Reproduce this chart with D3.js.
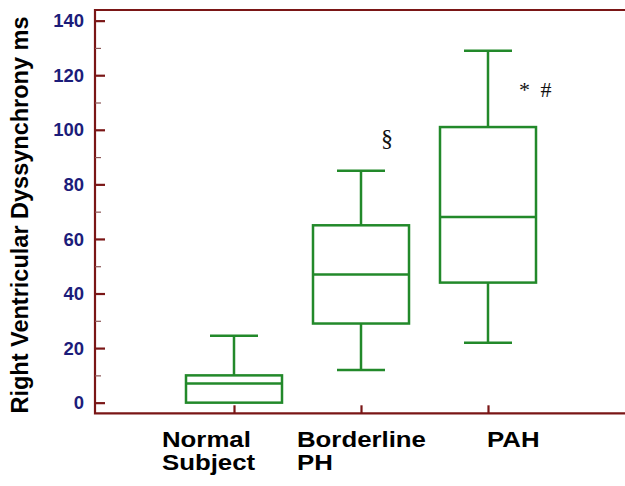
<!DOCTYPE html>
<meta charset="utf-8">
<script src="https://d3js.org/d3.v7.min.js"></script>
<style>
body { margin: 0; background: #fff; }
text { font-family: "Liberation Sans", Arial, sans-serif; }
.box { fill: none; stroke: #22892a; stroke-width: 2.5px; }
.frame { stroke: #7a1616; stroke-width: 2.2px; fill: none; }
</style>
<body>
<script>

// group names and box-plot statistics (ms)
var groups   = ["Normal Subject", "Borderline PH", "PAH"];
var whiskLo  = [0, 12, 22];
var q1       = [0, 29, 44];
var median   = [7, 47, 68];
var q3       = [10, 65, 101];
var whiskHi  = [24.5, 85, 129];

var yTicks = [0, 20, 40, 60, 80, 100, 120, 140];
var yMinor = [10, 30, 50, 70, 90, 110, 130];

// significance marks, placed at a value on the y scale
var marks    = ["", "\u00a7", "*\u2009#"];
var markAt   = [0, 94, 112];

var width = 625,
    height = 486;

var svg = d3.select("body").append("svg")
    .attr("width", width)
    .attr("height", height);

var plotL = 95, plotT = 10, plotB = 413.3;

var y = d3.scaleLinear().domain([-3.9, 143.9]).range([plotB, plotT]);
var x = d3.scalePoint().domain(groups).range([234, 488]);

var boxW = 96, capW = 48;

// frame
svg.append("path").attr("class", "frame")
    .attr("d", "M" + width + "," + plotT + "H" + plotL + "V" + plotB + "H" + width);

// y axis (ticks pointing inward), labels drawn separately
var yAxis = svg.append("g")
    .attr("transform", "translate(" + plotL + ",0)")
    .call(d3.axisLeft(y).tickValues(yTicks).tickSize(-10).tickFormat(""));
yAxis.select(".domain").remove();
yAxis.selectAll(".tick line").attr("stroke", "#7a1616").attr("stroke-width", 2.2);

svg.append("g").selectAll("text")
    .data(yTicks)
    .enter().append("text")
    .attr("x", plotL - 11)
    .attr("y", function(d) { return y(d); })
    .attr("dy", "0.36em")
    .attr("text-anchor", "end")
    .style("font-size", "18.5px")
    .style("font-weight", "bold")
    .style("fill", "#1c1c7a")
    .text(function(d) { return d; });

var yMin = svg.append("g")
    .attr("transform", "translate(" + plotL + ",0)")
    .call(d3.axisLeft(y).tickValues(yMinor).tickSize(-6).tickFormat(""));
yMin.select(".domain").remove();
yMin.selectAll(".tick line").attr("stroke", "#8a5555").attr("stroke-width", 1.2);

// x axis ticks
var xAxis = svg.append("g")
    .attr("transform", "translate(0," + plotB + ")")
    .call(d3.axisBottom(x).tickSize(-8).tickFormat(""));
xAxis.select(".domain").remove();
xAxis.selectAll(".tick line").attr("stroke", "#7a1616").attr("stroke-width", 2.2);

// x labels, two lines, left aligned as in the slide
var labelDx = [-72, -64, -1];
groups.forEach(function(g, i) {
  var lines = g.split(" ");
  var t = svg.append("text")
      .attr("transform", "translate(" + (x(g) + labelDx[i]) + ",446.7) scale(1.2,1)")
      .style("font-size", "21.5px")
      .style("font-weight", "bold")
      .attr("fill", "#000");
  lines.forEach(function(l, j) {
    t.append("tspan").attr("x", 0).attr("y", j * 23).text(l);
  });
});

// y title
svg.append("text")
    .attr("transform", "translate(28,215) rotate(-90)")
    .attr("text-anchor", "middle")
    .style("font-size", "23.5px")
    .style("font-weight", "bold")
    .attr("fill", "#000")
    .text("Right Ventricular Dyssynchrony ms");

// boxes
var bx = svg.append("g").selectAll("g")
    .data(groups)
    .enter().append("g");

bx.each(function(g, i) {
  var s = d3.select(this);
  var cx = x(g);
  // whiskers
  if (whiskHi[i] > q3[i]) {
    s.append("line").attr("class", "box")
        .attr("x1", cx).attr("x2", cx).attr("y1", y(q3[i])).attr("y2", y(whiskHi[i]));
    s.append("line").attr("class", "box")
        .attr("x1", cx - capW / 2).attr("x2", cx + capW / 2)
        .attr("y1", y(whiskHi[i])).attr("y2", y(whiskHi[i]));
  }
  if (whiskLo[i] < q1[i]) {
    s.append("line").attr("class", "box")
        .attr("x1", cx).attr("x2", cx).attr("y1", y(q1[i])).attr("y2", y(whiskLo[i]));
    s.append("line").attr("class", "box")
        .attr("x1", cx - capW / 2).attr("x2", cx + capW / 2)
        .attr("y1", y(whiskLo[i])).attr("y2", y(whiskLo[i]));
  }
  s.append("rect").attr("class", "box")
      .attr("x", cx - boxW / 2)
      .attr("y", y(q3[i]))
      .attr("width", boxW)
      .attr("height", y(q1[i]) - y(q3[i]));
  s.append("line").attr("class", "box")
      .attr("x1", cx - boxW / 2).attr("x2", cx + boxW / 2)
      .attr("y1", y(median[i])).attr("y2", y(median[i]));
});

// significance marks
var markDx = [0, 20, 31];
groups.forEach(function(g, i) {
  if (!marks[i]) return;
  svg.append("text")
      .attr("x", x(g) + markDx[i])
      .attr("y", y(markAt[i]))
      .style("font-family", "'Liberation Serif', 'Times New Roman', serif")
      .style("font-size", i == 1 ? "24px" : "22px")
      .style("letter-spacing", i == 2 ? "3px" : null)
      .attr("fill", "#111")
      .text(marks[i]);
});

</script>
</body>
